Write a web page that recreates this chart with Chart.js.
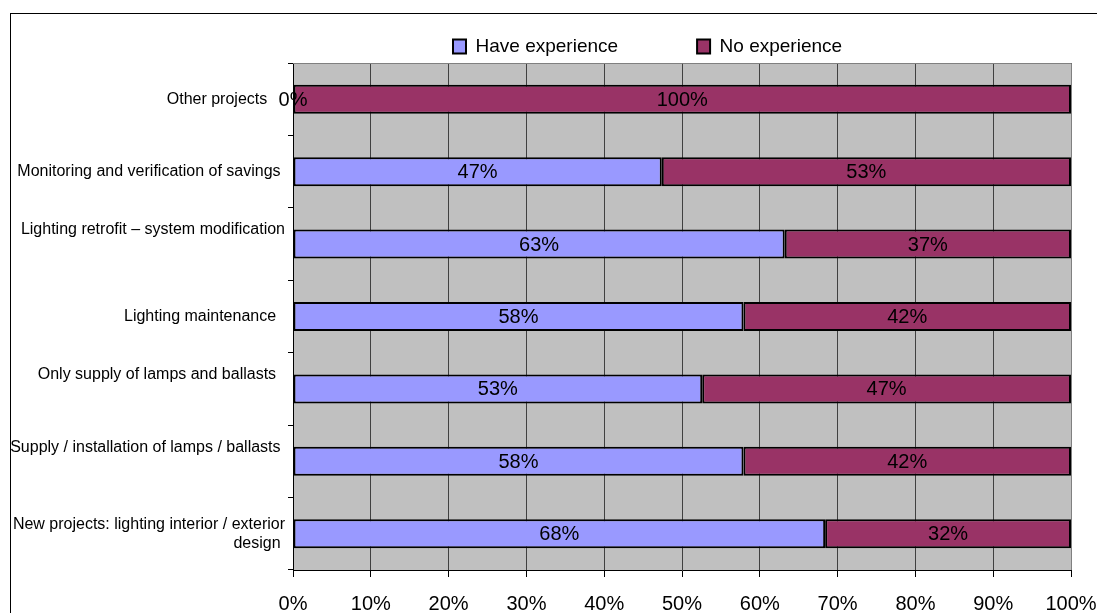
<!DOCTYPE html>
<html><head><meta charset="utf-8">
<script src="https://cdn.jsdelivr.net/npm/chart.js@4"></script>
<style>
html,body{margin:0;padding:0;background:#fff;overflow:hidden;}
#wrap{position:relative;width:1097px;height:613px;overflow:hidden;}
#frame{position:absolute;left:10px;top:13px;width:1300px;height:800px;border:1px solid #000;pointer-events:none;}
canvas{position:absolute;left:0;top:0;}
</style></head><body>
<div id="wrap"><canvas id="c" width="1097" height="613"></canvas><div id="frame"></div></div>
<script>
// ---- data ----
const categories = [
  ['Other projects    '],
  ['Monitoring and verification of savings '],
  ['Lighting retrofit \u2013 system modification', ''],
  ['Lighting maintenance  '],
  ['Only supply of lamps and ballasts  ', ''],
  ['Supply / installation of lamps / ballasts ', ''],
  ['New projects: lighting interior / exterior', 'design ']
];
const seriesNames = ['Have experience', 'No experience'];
const haveExperience = [0, 47.4, 63.2, 57.9, 52.6, 57.9, 68.4];
const noExperience = [100, 52.6, 36.8, 42.1, 47.4, 42.1, 31.6];
const xTickLabels = ['0%','10%','20%','30%','40%','50%','60%','70%','80%','90%','100%'];

// ---- styles ----
const FONT = "'Liberation Sans', Arial, Helvetica, sans-serif";
const spacedLabelIdx = [2, 4, 5];

const plotBg = {
  id: 'plotBg',
  beforeDraw(chart) {
    const {ctx, chartArea: a} = chart;
    ctx.save();
    ctx.fillStyle = '#C0C0C0';
    ctx.fillRect(a.left, a.top, a.right - a.left, a.bottom - a.top);
    ctx.restore();
  },
  afterDraw(chart) {
    const {ctx, chartArea: a} = chart;
    ctx.save();
    ctx.strokeStyle = '#808080';
    ctx.lineWidth = 1;
    ctx.beginPath();
    ctx.moveTo(a.left, a.top + 0.5);
    ctx.lineTo(a.right + 0.5, a.top + 0.5);
    ctx.lineTo(a.right + 0.5, a.bottom);
    ctx.stroke();
    ctx.restore();
  }
};

const valueLabels = {
  id: 'valueLabels',
  afterDatasetsDraw(chart) {
    const ctx = chart.ctx;
    ctx.save();
    ctx.font = '20px ' + FONT;
    ctx.fillStyle = '#000';
    ctx.textAlign = 'center';
    ctx.textBaseline = 'middle';
    chart.data.datasets.forEach((ds, di) => {
      const meta = chart.getDatasetMeta(di);
      meta.data.forEach((el, i) => {
        const v = ds.data[i];
        const cx = (el.x + el.base) / 2;
        ctx.fillText(Math.round(v) + '%', cx, el.y + 1);
      });
    });
    ctx.restore();
  }
};

const LEG_PAD = 79;
const legendPlace = {
  id: 'legendPlace',
  afterLayout(chart) {
    const lg = chart.legend;
    lg.left = 453 - LEG_PAD;
    lg.top = 37 - LEG_PAD;
  }
};

new Chart(document.getElementById('c'), {
  type: 'bar',
  data: {
    labels: categories,
    datasets: [
      { label: seriesNames[0], data: haveExperience, backgroundColor: '#9999FF', borderColor: '#000', borderWidth: 2, borderSkipped: false },
      { label: seriesNames[1], data: noExperience, backgroundColor: '#993366', borderColor: '#000', borderWidth: 2, borderSkipped: false }
    ]
  },
  options: {
    indexAxis: 'y',
    responsive: false,
    animation: false,
    devicePixelRatio: 1,
    layout: { padding: { top: 0, right: 26, bottom: 0, left: 0 } },
    datasets: { bar: { categoryPercentage: 1, barPercentage: 0.4 } },
    scales: {
      x: {
        stacked: true, min: 0, max: 100,
        ticks: {
          stepSize: 10, color: '#000', padding: 15,
          font: { family: FONT, size: 20 },
          callback: (v, i) => xTickLabels[i]
        },
        grid: { color: '#404040', tickColor: '#000', tickLength: 7, lineWidth: 1 },
        border: { display: true, color: '#000', width: 1 },
        afterFit(s) { s.height = 43; s.paddingRight = 0; s.paddingLeft = 0; }
      },
      y: {
        stacked: true,
        ticks: {
          color: '#000', padding: 3, autoSkip: false,
          font: (ctx) => ({ family: FONT, size: 16, lineHeight: spacedLabelIdx.includes(ctx.index) ? 1.75 : 1.19 })
        },
        grid: { drawOnChartArea: false, tickColor: '#000', tickLength: 5, offset: true },
        border: { display: true, color: '#000', width: 1 },
        afterFit(s) { s.width = 293; }
      }
    },
    plugins: {
      legend: {
        position: 'top', align: 'start', maxHeight: 63,
        labels: { boxWidth: 13, boxHeight: 14, padding: LEG_PAD, color: '#000', font: { family: FONT, size: 19 } }
      },
      tooltip: { enabled: false }
    }
  },
  plugins: [plotBg, valueLabels, legendPlace]
});
</script>
</body></html>
